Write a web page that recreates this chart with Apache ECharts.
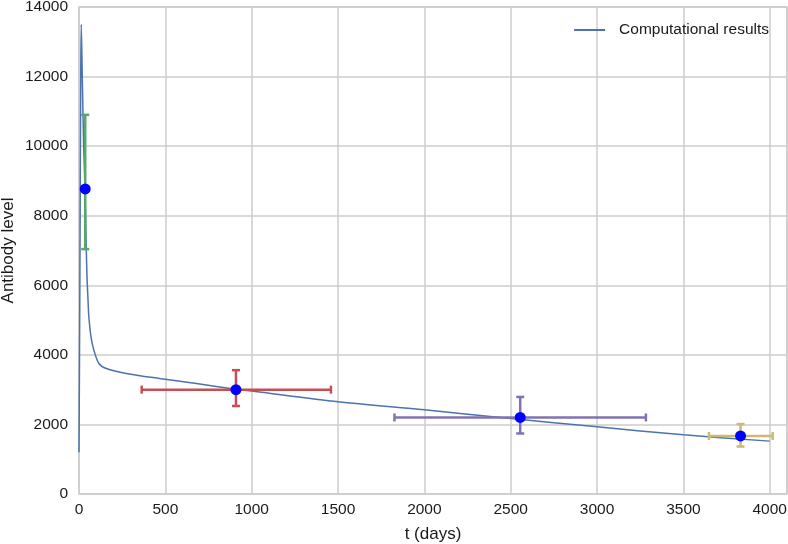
<!DOCTYPE html>
<html>
<head>
<meta charset="utf-8">
<script src="https://cdn.jsdelivr.net/npm/echarts@6/dist/echarts.min.js"></script>
<style>html,body{margin:0;padding:0;background:#fff}#c{width:788px;height:544px}</style>
</head>
<body>
<div id="c"></div>
<script>
// Computational curve (t in days, antibody level)
const curveT = [0, 5, 10, 13, 19, 27, 35, 40, 46, 52, 57, 70, 86, 115, 158, 274, 467, 680, 909, 1000, 1500, 2000, 2500, 3000, 3500, 4000];
const curveV = [1200, 6000, 12000, 13500, 12000, 10000, 8770, 7500, 6300, 5600, 5094, 4500, 4135, 3752, 3608, 3465, 3320, 3177, 3010, 2960, 2650, 2420, 2170, 1930, 1700, 1520];

// Measured points with error ranges
const pointT = [36, 909, 2555, 3831];
const pointV = [8770, 3000, 2200, 1670];
const tLow = [36, 363, 1827, 3648];
const tHigh = [36, 1459, 3283, 4017];
const vLow = [7040, 2530, 1740, 1365];
const vHigh = [10900, 3560, 2790, 2010];
const errColors = ['#55a868', '#c44e52', '#8172b2', '#ccb974'];

const xTicks = [0, 500, 1000, 1500, 2000, 2500, 3000, 3500, 4000];
const yTicks = [0, 2000, 4000, 6000, 8000, 10000, 12000, 14000];

const chart = echarts.init(document.getElementById('c'));
const font = 'Liberation Sans, Arial, sans-serif';
const txt = '#1a1a1a';

const errData = pointT.map((t, i) => [t, pointV[i], tLow[i], tHigh[i], vLow[i], vHigh[i], i]);

chart.setOption({
  animation: false,
  grid: { left: 79, right: 1, top: 7, bottom: 50, show: true, borderColor: '#cccccc', borderWidth: 1.5,
          containLabel: false, outerBoundsMode: 'none' },
  xAxis: {
    type: 'value', min: 0, max: 4100, interval: 500,
    name: 't (days)', nameLocation: 'middle', nameGap: 32, nameMoveOverlap: false,
    nameTextStyle: { fontFamily: font, fontSize: 17, color: txt },
    axisLine: { show: false }, axisTick: { show: false },
    axisLabel: { fontFamily: font, fontSize: 15.5, color: txt, margin: 8, showMaxLabel: false,
                 formatter: v => String(v) },
    splitLine: { lineStyle: { color: '#cccccc', width: 1.5 } }
  },
  yAxis: {
    type: 'value', min: 0, max: 14000, interval: 2000,
    name: 'Antibody level', nameLocation: 'middle', nameGap: 62, nameMoveOverlap: false,
    nameTextStyle: { fontFamily: font, fontSize: 17, color: txt },
    axisLine: { show: false }, axisTick: { show: false },
    axisLabel: { fontFamily: font, fontSize: 15.5, color: txt, margin: 11,
                 formatter: v => String(v) },
    splitLine: { lineStyle: { color: '#cccccc', width: 1.5 } }
  },
  legend: {
    right: 14, top: 17, itemWidth: 31, itemHeight: 2, itemGap: 10,
    textStyle: { fontFamily: font, fontSize: 15.5, color: txt, padding: [0, 0, 0, 9] },
    data: [{ name: 'Computational results', icon: 'rect' }]
  },
  series: [
    {
      name: 'Computational results', type: 'line', showSymbol: false, smooth: 0.3,
      data: curveT.map((t, i) => [t, curveV[i]]),
      lineStyle: { color: '#4c72b0', width: 1.5 }, itemStyle: { color: '#4c72b0' }, z: 3
    },
    {
      name: 'err', type: 'custom', z: 4,
      data: errData,
      renderItem: function (params, api) {
        const i = api.value(6);
        const col = errColors[i];
        const c = api.coord([api.value(0), api.value(1)]);
        const l = api.coord([api.value(2), api.value(1)]);
        const r = api.coord([api.value(3), api.value(1)]);
        const lo = api.coord([api.value(0), api.value(4)]);
        const hi = api.coord([api.value(0), api.value(5)]);
        const cap = 4;
        const st = { stroke: col, lineWidth: 2.5 };
        const ch = [];
        ch.push({ type: 'line', shape: { x1: lo[0], y1: lo[1], x2: hi[0], y2: hi[1] }, style: st });
        ch.push({ type: 'line', shape: { x1: hi[0] - cap, y1: hi[1], x2: hi[0] + cap, y2: hi[1] }, style: st });
        ch.push({ type: 'line', shape: { x1: lo[0] - cap, y1: lo[1], x2: lo[0] + cap, y2: lo[1] }, style: st });
        if (r[0] - l[0] > 1) {
          ch.push({ type: 'line', shape: { x1: l[0], y1: c[1], x2: r[0], y2: c[1] }, style: st });
          ch.push({ type: 'line', shape: { x1: l[0], y1: c[1] - cap, x2: l[0], y2: c[1] + cap }, style: st });
          ch.push({ type: 'line', shape: { x1: r[0], y1: c[1] - cap, x2: r[0], y2: c[1] + cap }, style: st });
        }
        return { type: 'group', children: ch };
      }
    },
    {
      name: 'pts', type: 'scatter', z: 5, symbolSize: 11,
      data: pointT.map((t, i) => [t, pointV[i]]),
      itemStyle: { color: '#0000ff', opacity: 1 }
    }
  ]
});
</script>
</body>
</html>
